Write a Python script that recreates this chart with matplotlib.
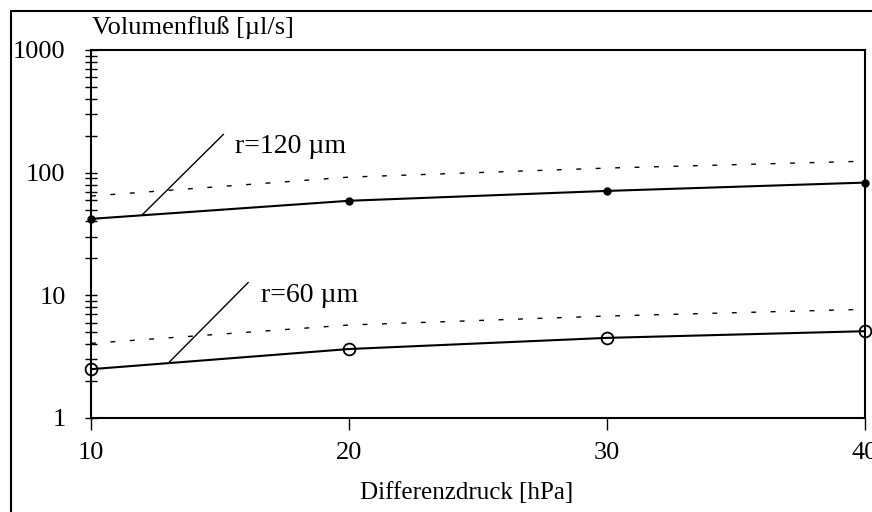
import matplotlib
matplotlib.use("Agg")
import matplotlib.pyplot as plt
from matplotlib.patches import Rectangle
from matplotlib.ticker import LogLocator, NullFormatter, FixedLocator

# pressure difference [hPa]
druck = [10, 20, 30, 40]
# measured volume flow [ul/s]
flow_120 = [42, 59, 71, 83]
flow_60 = [2.5, 3.65, 4.5, 5.1]
# dotted curves (calculated)
calc_120 = [64.5, 92, 109, 124]
calc_60 = [4.06, 5.73, 6.78, 7.69]

x_ticks = [10, 20, 30, 40]
y_ticks = [1, 10, 100, 1000]

plt.rcParams['font.family'] = ['Liberation Serif', 'DejaVu Serif']
plt.rcParams['font.size'] = 19

fig = plt.figure(figsize=(8.72, 5.12), dpi=100)
ax = fig.add_axes([91/872, 1-418/512, (865-91)/872, (418-50)/512])

ax.plot(druck, calc_120, color='black', lw=1.0, linestyle=(0, (3.5, 10.5)))
ax.plot(druck, calc_60, color='black', lw=1.0, linestyle=(0, (3.5, 10.5)))
ax.plot(druck, flow_120, color='black', lw=1.5, marker='o', markersize=5,
        markerfacecolor='black', clip_on=False, zorder=5)
ax.plot(druck, flow_60, color='black', lw=1.5, marker='o', markersize=8.5,
        markerfacecolor='none', markeredgewidth=1.3, clip_on=False, zorder=5)

# label lines
ax.plot([11.97, 15.13], [45, 205], color='black', lw=1.0)
ax.plot([13.03, 16.09], [2.85, 12.7], color='black', lw=1.0)
ax.text(15.6, 164, 'r=120 µm', ha='left', va='center', fontsize=20)
ax.text(16.6, 9.9, 'r=60 µm', ha='left', va='center', fontsize=20)

ax.set_yscale('log')
ax.set_xlim(10, 40)
ax.set_ylim(1, 1000)
ax.xaxis.set_major_locator(FixedLocator(x_ticks))
ax.set_xticklabels([str(v) for v in x_ticks])
ax.yaxis.set_major_locator(FixedLocator(y_ticks))
ax.set_yticklabels([str(v) for v in y_ticks])
ax.yaxis.set_minor_locator(LogLocator(base=10, subs=range(2, 10)))
ax.yaxis.set_minor_formatter(NullFormatter())

ax.tick_params(axis='y', which='both', direction='inout', length=8.5, width=1.0, pad=14)
ax.tick_params(axis='x', which='major', direction='out', length=8.5, width=1.0, pad=9)
for s in ax.spines.values():
    s.set_linewidth(1.5)

fig.text(467/872, 1-493/512, 'Differenzdruck [hPa]', ha='center', va='center', fontsize=18)
fig.text(92/872, 1-28/512, 'Volumenfluß [µl/s]', ha='left', va='center')

# outer frame
fig.patches.append(Rectangle((11/872, -0.05), 1.0, 1-11/512+0.05, transform=fig.transFigure,
                             fill=False, edgecolor='black', lw=1.5))

fig.savefig('out.png', dpi=100)
